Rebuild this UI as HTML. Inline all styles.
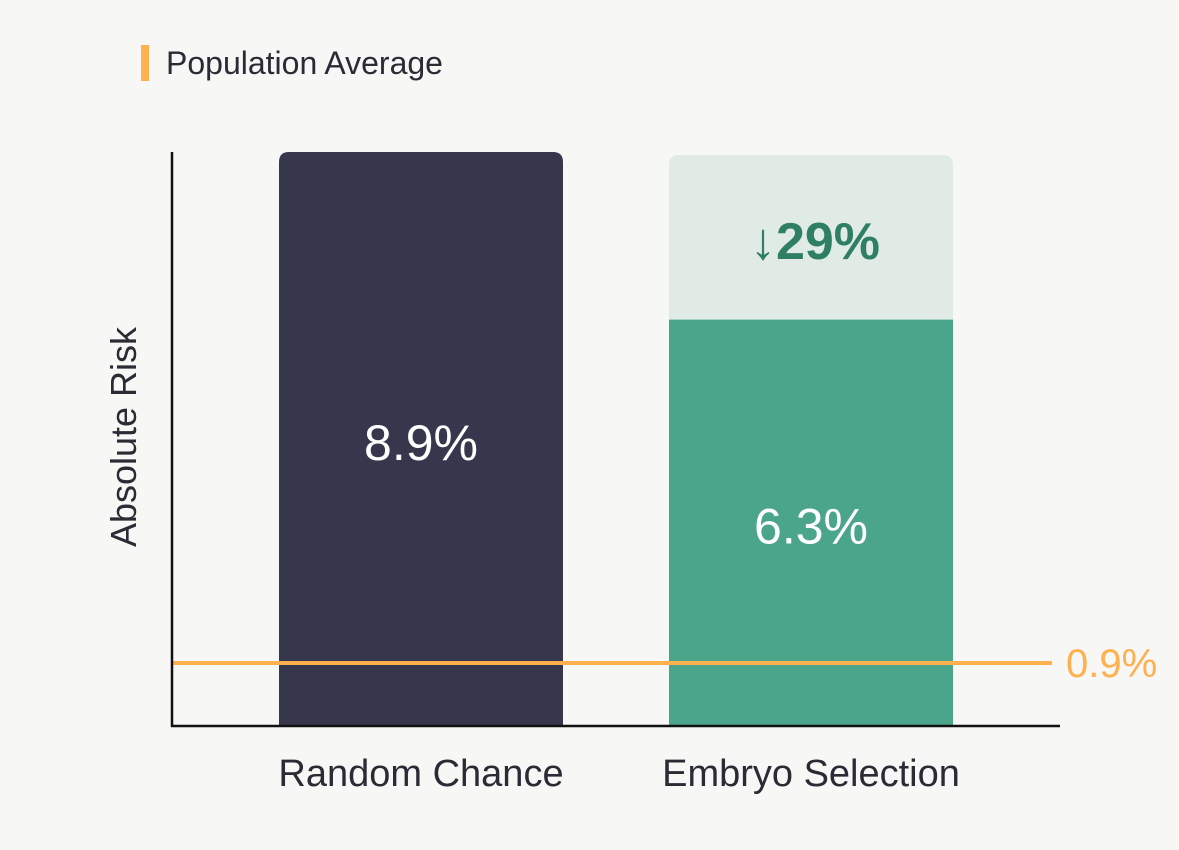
<!DOCTYPE html>
<html><head><meta charset="utf-8"><style>
html,body{margin:0;padding:0;background:#f7f7f5;}
svg{display:block;font-family:"Liberation Sans",sans-serif;}
</style></head><body>
<svg id="chart" width="1179" height="850" viewBox="0 0 1179 850">
  <rect width="1179" height="850" fill="#f7f7f5"/>
  <g>
    <rect x="141" y="45" width="8" height="36" fill="#ffb04f"/>
    <text x="166" y="74" font-size="32" fill="#2b2b36">Population Average</text>
  </g>
  <text transform="translate(136,437) rotate(-90)" text-anchor="middle" font-size="36" fill="#2b2b36">Absolute Risk</text>
  <g id="marks"></g>
  <line x1="172" y1="152" x2="172" y2="727" stroke="#111" stroke-width="2.5"/>
  <line x1="171" y1="726" x2="1060" y2="726" stroke="#111" stroke-width="2.5"/>
</svg>
<script>
const categories = ["Random Chance", "Embryo Selection"];
const riskValues = [8.9, 6.3];
const baselineValue = 8.9;
const populationAverage = 0.9;
const reductionLabel = "29%";

const NS = "http://www.w3.org/2000/svg";
const g = document.getElementById("marks");
const y0 = 726, yTop = 152, maxV = 8.9;
const yScale = v => y0 - (v / maxV) * (y0 - yTop);
const barW = 284;
const xCenter = i => 421 + i * 390;
function mk(tag, attrs, text){
  const e = document.createElementNS(NS, tag);
  for (const k in attrs) e.setAttribute(k, attrs[k]);
  if (text !== undefined) e.textContent = text;
  g.appendChild(e);
  return e;
}
function roundTopPath(x, y, w, h, r){
  return `M${x},${y+h}V${y+r}Q${x},${y} ${x+r},${y}H${x+w-r}Q${x+w},${y} ${x+w},${y+r}V${y+h}Z`;
}
riskValues.forEach((v, i) => {
  const cx = xCenter(i), x = cx - barW/2;
  if (i === 1) {
    const yb = yScale(baselineValue) + 3;
    const bg = mk("path", {d: roundTopPath(x, yb, barW, y0 - yb, 10), fill: "#e0ebe6"});
    
    
    const red = mk("text", {x: cx + 4, y: yb + 104, "text-anchor": "middle", "font-size": "52", "font-weight": "bold", fill: "#2f7f64"}, "\u2193" + reductionLabel);
    
    
  }
  const yv = yScale(v);
  const bar = mk("path", {d: i === 0 ? roundTopPath(x, yv, barW, y0 - yv, 10) : `M${x},${yv}H${x+barW}V${y0}H${x}Z`, fill: i === 0 ? "#36374d" : "#4aa58a"});
  
  
  const lbl = mk("text", {x: cx, y: i === 0 ? 460 : yv + 224, "text-anchor": "middle", "font-size": "50", fill: "#ffffff"}, v.toFixed(1) + "%");
  
  
  const cat = mk("text", {x: cx, y: 786, "text-anchor": "middle", "font-size": "38", fill: "#2b2b36"}, categories[i]);
  
  
});
const ya = yScale(populationAverage) - 5;
const line = mk("line", {x1: 172, y1: ya, x2: 1052, y2: ya, stroke: "#ffb04f", "stroke-width": 4});


const al = mk("text", {x: 1066, y: ya + 14, "font-size": "40", fill: "#ffb04f"}, populationAverage.toFixed(1) + "%");


</script>
</body></html>
